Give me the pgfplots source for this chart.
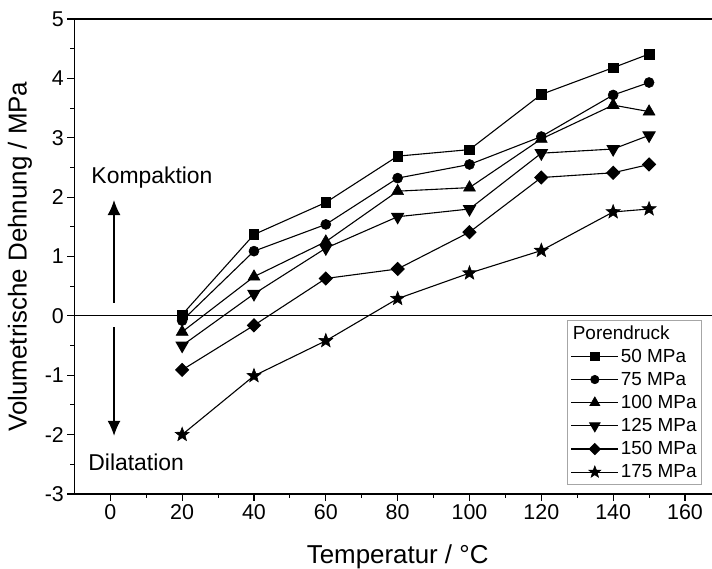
\documentclass[border=0pt]{standalone}
\usepackage{fontspec}
\setmainfont{Liberation Sans}
\usepackage{pgfplots}
\pgfplotsset{compat=1.18}
\usetikzlibrary{arrows.meta,calc}

\pgfdeclareplotmark{fstar}{%
  \pgfpathmoveto{\pgfpointpolar{90}{\pgfplotmarksize}}%
  \pgfpathlineto{\pgfpointpolar{126}{0.42\pgfplotmarksize}}%
  \pgfpathlineto{\pgfpointpolar{162}{\pgfplotmarksize}}%
  \pgfpathlineto{\pgfpointpolar{198}{0.42\pgfplotmarksize}}%
  \pgfpathlineto{\pgfpointpolar{234}{\pgfplotmarksize}}%
  \pgfpathlineto{\pgfpointpolar{270}{0.42\pgfplotmarksize}}%
  \pgfpathlineto{\pgfpointpolar{306}{\pgfplotmarksize}}%
  \pgfpathlineto{\pgfpointpolar{342}{0.42\pgfplotmarksize}}%
  \pgfpathlineto{\pgfpointpolar{18}{\pgfplotmarksize}}%
  \pgfpathlineto{\pgfpointpolar{54}{0.42\pgfplotmarksize}}%
  \pgfpathclose
  \pgfusepathqfillstroke}

\begin{document}
\begin{tikzpicture}
\begin{axis}[
  scale only axis, width=646.5bp, height=475bp,
  xmin=-10, xmax=170, ymin=-3, ymax=5,
  axis line style={line width=1.3bp},
  tick align=outside, tick pos=left,
  xtick={0,20,...,160}, xticklabels={0,20,40,60,80,100,120,140,160},
  minor x tick num=1,
  ytick={-3,-2,...,5}, yticklabels={-3,-2,-1,0,1,2,3,4,5},
  minor y tick num=1,
  major tick length=7bp, minor tick length=4bp,
  tick style={line width=1.1bp, black},
  ticklabel style={font=\fontsize{21.5}{24}\selectfont},
  xlabel={Temperatur / °C}, ylabel={Volumetrische Dehnung / MPa},
  label style={font=\fontsize{26}{30}\selectfont},
  xlabel style={at={(axis description cs:0.5,-0.1326)}, anchor=center},
  ylabel style={at={(axis description cs:-0.0841,0.5)}, anchor=center},
  every axis plot/.append style={black, line width=1.1bp, mark options={solid, fill=black, line width=0.6bp}},
  legend style={at={(axis description cs:0.9708,0.3663)}, anchor=north east,
    draw=gray!70, line width=0.8bp, fill=white,
    font=\fontsize{19}{22}\selectfont, row sep=4.5bp, inner xsep=3bp, inner ysep=3bp},
  legend cell align=left,
  legend image code/.code={%
    \draw[#1,mark=none] (0bp,0bp) -- (47bp,0bp);
    \path[#1, every mark/.append style={scale=0.85}] plot coordinates {(23.5bp,0bp)};},
]
\addplot[forget plot, line width=1bp] coordinates {(-10,0) (170,0)};

\addlegendimage{empty legend}
\addlegendentry{\hspace{-48bp}Porendruck}

\addplot[mark=square*, mark size=4.8bp] coordinates {(20,0.02)(40,1.37)(60,1.91)(80,2.69)(100,2.80)(120,3.73)(140,4.18)(150,4.41)};
\addlegendentry{50 MPa}
\addplot[mark=*, mark size=5bp] coordinates {(20,-0.08)(40,1.09)(60,1.54)(80,2.32)(100,2.55)(120,3.02)(140,3.72)(150,3.93)};
\addlegendentry{75 MPa}
\addplot[mark=triangle*, mark size=6.8bp] coordinates {(20,-0.27)(40,0.66)(60,1.25)(80,2.10)(100,2.16)(120,2.98)(140,3.55)(150,3.44)};
\addlegendentry{100 MPa}
\addplot[mark=triangle*, mark size=6.8bp, mark options={rotate=180}] coordinates {(20,-0.50)(40,0.37)(60,1.14)(80,1.67)(100,1.80)(120,2.74)(140,2.81)(150,3.04)};
\addlegendentry{125 MPa}
\addplot[mark=square*, mark size=4.5bp, mark options={rotate=45}] coordinates {(20,-0.91)(40,-0.16)(60,0.63)(80,0.79)(100,1.41)(120,2.33)(140,2.41)(150,2.55)};
\addlegendentry{150 MPa}
\addplot[mark=fstar, mark size=7.3bp] coordinates {(20,-2.00)(40,-1.01)(60,-0.42)(80,0.29)(100,0.72)(120,1.10)(140,1.75)(150,1.80)};
\addlegendentry{175 MPa}

\node[font=\fontsize{23}{26}\selectfont] at (axis cs:11.6,2.33) {Kompaktion};
\node[font=\fontsize{23}{26}\selectfont] at (axis cs:7.2,-2.47) {Dilatation};
\draw[line width=1.3bp, -{Latex[length=15bp,width=13bp]}] (axis cs:1.03,0.22) -- (axis cs:1.03,1.95);
\draw[line width=1.3bp, -{Latex[length=15bp,width=13bp]}] (axis cs:1.03,-0.19) -- (axis cs:1.03,-2.02);
\end{axis}
\pgfresetboundingbox
\path[use as bounding box] ($(current axis.north west)+(-74.4bp,19bp)$) rectangle ($(current axis.north west)+(637.6bp,-550bp)$);
\end{tikzpicture}
\end{document}
